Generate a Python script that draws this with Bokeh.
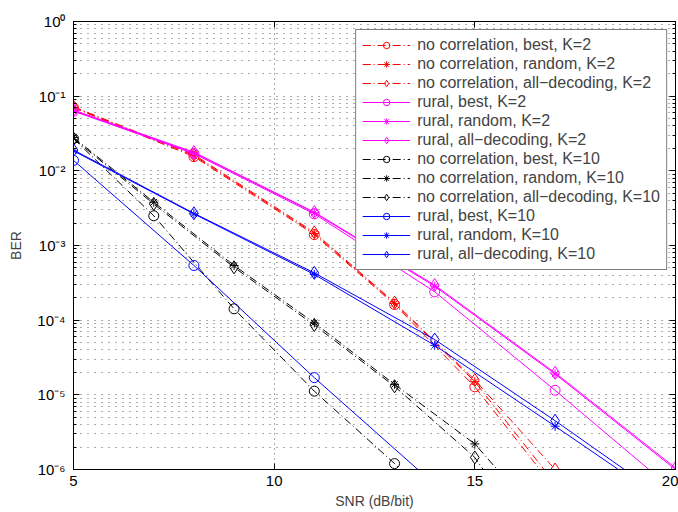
from bokeh.plotting import figure
from bokeh.models import Range1d, FixedTicker, LinearAxis
from bokeh.embed import file_html
from bokeh.resources import INLINE

# ---- data ----
snr_nc2 = [5, 8, 11, 13, 15, 17]
nc2_best = [0.070, 0.0155, 1.40e-3, 1.62e-4, 1.28e-5, 5.5e-7]
nc2_random = [0.071, 0.0160, 1.45e-3, 1.68e-4, 1.50e-5, 6.5e-7]
nc2_all = [0.072, 0.0165, 1.50e-3, 1.72e-4, 1.58e-5, 1.0e-6]

snr_r2 = [5, 8, 11, 14, 17, 20]
r2_best = [0.063, 0.0170, 2.65e-3, 2.40e-4, 1.15e-5, 5.0e-7]
r2_random = [0.064, 0.0174, 2.75e-3, 2.85e-4, 1.90e-5, 1.0e-6]
r2_all = [0.065, 0.0178, 2.80e-3, 2.95e-4, 1.97e-5, 1.05e-6]

snr_nc10 = [5, 7, 9, 11, 13, 15, 17]
nc10_best = [0.027, 2.5e-3, 1.42e-4, 1.12e-5, 1.2e-6, 1.0e-7, 1.0e-8]
nc10_random = [0.028, 3.8e-3, 5.4e-4, 9.2e-5, 1.38e-5, 2.2e-6, 1.3e-7]
nc10_all = [0.027, 3.6e-3, 5.1e-4, 8.6e-5, 1.30e-5, 1.45e-6, 4.0e-8]

snr_r10 = [5, 8, 11, 14, 17, 20]
snr_r10_best = [5, 8, 11, 14]
r10_best = [0.0138, 5.4e-4, 1.7e-5, 6.3e-7]
r10_random = [0.0185, 2.65e-3, 4.1e-4, 4.6e-5, 3.8e-6, 3.0e-7]
r10_all = [0.0190, 2.70e-3, 4.3e-4, 5.5e-5, 4.5e-6, 3.3e-7]

labels = [
    "no correlation, best, K=2", "no correlation, random, K=2", "no correlation, all\u2212decoding, K=2",
    "rural, best, K=2", "rural, random, K=2", "rural, all\u2212decoding, K=2",
    "no correlation, best, K=10", "no correlation, random, K=10", "no correlation, all\u2212decoding, K=10",
    "rural, best, K=10", "rural, random, K=10", "rural, all\u2212decoding, K=10",
]

x_ticks = [5, 10, 15, 20]
y_ticks = [1e-6, 1e-5, 1e-4, 1e-3, 1e-2, 1e-1, 1.0]
y_tick_labels = ["10\u207b\u2076", "10\u207b\u2075", "10\u207b\u2074", "10\u207b\u00b3", "10\u207b\u00b2", "10\u207b\u00b9", "10\u2070"]
y_minor = [m * 10.0 ** e for e in range(-6, 0) for m in range(2, 10)]

FONT = "Liberation Sans"

p = figure(width=678, height=512, output_backend="svg", toolbar_location=None,
           x_range=Range1d(5, 20), y_range=Range1d(1e-6, 1), y_axis_type="log",
           frame_width=602, frame_height=448,
           min_border_left=73, min_border_right=3, min_border_top=21, min_border_bottom=43)
p.outline_line_color = "black"
p.outline_line_width = 1
p.background_fill_color = "white"

yt = FixedTicker(ticks=y_ticks, minor_ticks=y_minor)
xt = FixedTicker(ticks=x_ticks, minor_ticks=[])
p.xaxis.ticker = xt
p.yaxis.ticker = yt
p.yaxis.major_label_overrides = {v: s for v, s in zip(y_ticks, y_tick_labels)}

for ax in (p.xaxis[0], p.yaxis[0]):
    ax.major_tick_in = 6
    ax.major_tick_out = 0
    ax.minor_tick_in = 3
    ax.minor_tick_out = 0
    ax.major_label_text_font = FONT
    ax.major_label_text_font_size = "15px"
    ax.major_label_text_color = "black"
    ax.axis_label_text_font = FONT
    ax.axis_label_text_font_size = "14px"
    ax.axis_label_text_font_style = "normal"
    ax.axis_line_color = "black"
    ax.major_tick_line_color = "black"
    ax.minor_tick_line_color = "black"
p.xaxis.axis_label = "SNR (dB/bit)"
p.yaxis.axis_label = "BER"
p.xaxis.major_label_standoff = 6
p.xaxis.axis_label_standoff = 4
p.yaxis.major_label_standoff = 8
p.yaxis.axis_label_standoff = 10

top = LinearAxis(ticker=xt, major_tick_in=6, major_tick_out=0,
                 major_label_overrides={v: "" for v in x_ticks},
                 axis_line_color="black", major_tick_line_color="black")
right = LinearAxis(ticker=yt, major_tick_in=6, major_tick_out=0, minor_tick_in=3, minor_tick_out=0,
                   major_label_overrides={v: "" for v in y_ticks}, axis_line_color="black",
                   major_tick_line_color="black", minor_tick_line_color="black")
p.add_layout(top, "above")
p.add_layout(right, "right")

p.xgrid.ticker = xt
p.xgrid.grid_line_color = "#333333"
p.xgrid.grid_line_dash = "1 4"
p.xgrid.grid_line_alpha = 0.8
p.ygrid.grid_line_color = "#333333"
p.ygrid.grid_line_dash = "1 6"
p.ygrid.grid_line_alpha = 0.8
p.ygrid.minor_grid_line_color = "#333333"
p.ygrid.minor_grid_line_dash = "1 6"
p.ygrid.minor_grid_line_alpha = 0.8

RED, MAG, BLK, BLU = "#ff0000", "#ff00ff", "#000000", "#0000ff"
DASHDOT = "8 3 1 3"
series = [
    (snr_nc2, nc2_best, RED, DASHDOT, "circle"),
    (snr_nc2, nc2_random, RED, DASHDOT, "asterisk"),
    (snr_nc2, nc2_all, RED, DASHDOT, "diamond"),
    (snr_r2, r2_best, MAG, "solid", "circle"),
    (snr_r2, r2_random, MAG, "solid", "asterisk"),
    (snr_r2, r2_all, MAG, "solid", "diamond"),
    (snr_nc10, nc10_best, BLK, DASHDOT, "circle"),
    (snr_nc10, nc10_random, BLK, DASHDOT, "asterisk"),
    (snr_nc10, nc10_all, BLK, DASHDOT, "diamond"),
    (snr_r10_best, r10_best, BLU, "solid", "circle"),
    (snr_r10, r10_random, BLU, "solid", "asterisk"),
    (snr_r10, r10_all, BLU, "solid", "diamond"),
]
msize = {"circle": 10, "asterisk": 9, "diamond": 13}

for (xs, ys, col, dash, mk), lab in zip(series, labels):
    p.line(xs, ys, line_color=col, line_width=1, line_dash=dash, legend_label=lab)
    p.scatter(xs, ys, marker=mk, size=msize[mk], line_color=col, fill_color=None,
              line_width=1, legend_label=lab)

lg = p.legend[0]
lg.location = "top_right"
lg.margin = 8
lg.border_line_color = "black"
lg.border_line_width = 1
lg.background_fill_color = "white"
lg.background_fill_alpha = 1
lg.label_text_font = FONT
lg.label_text_font_size = "16px"
lg.label_height = 16
lg.glyph_height = 16
lg.glyph_width = 48
lg.spacing = 1
lg.padding = 6
lg.label_standoff = 7

open("out.html", "w").write(file_html(p, INLINE))
